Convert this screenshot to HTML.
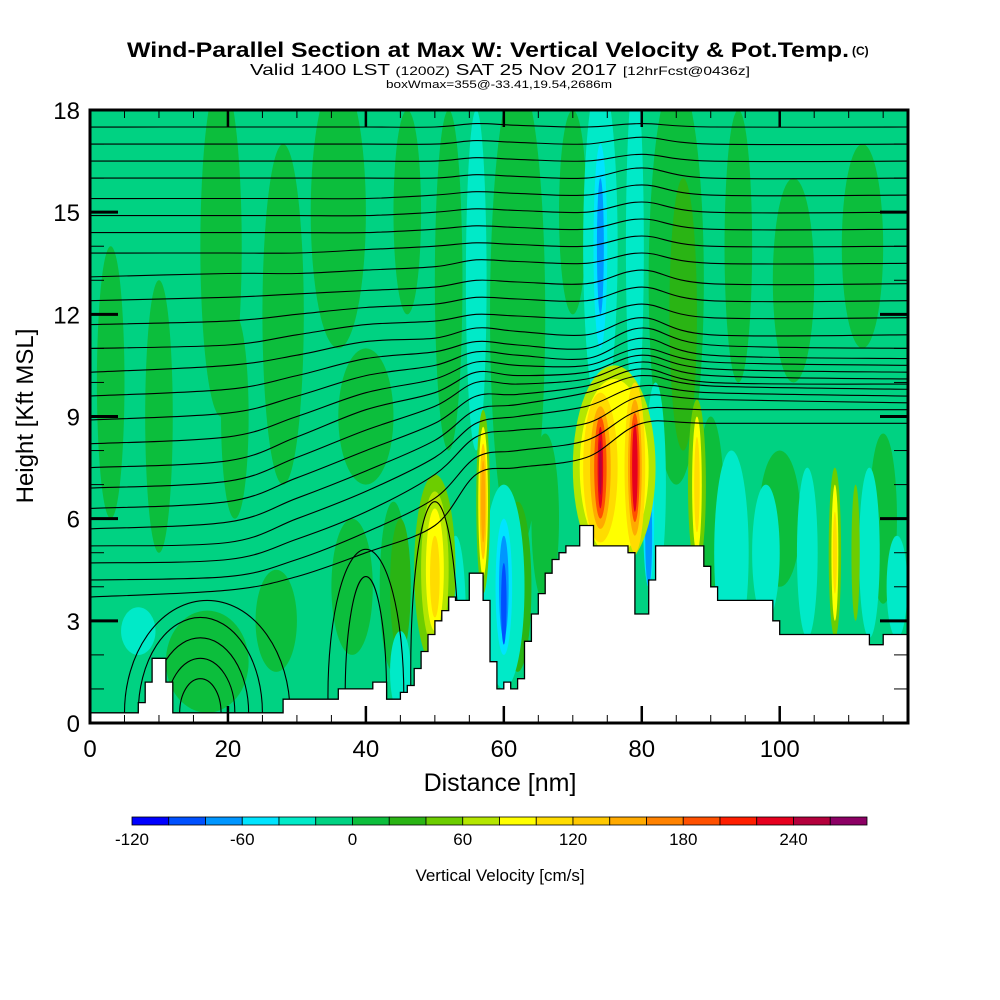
<!DOCTYPE html>
<html><head><meta charset="utf-8"><style>
html,body{margin:0;padding:0;background:#fff;}
svg{display:block;font-family:"Liberation Sans",sans-serif;}
</style></head><body>
<svg id="chart" width="1000" height="1000" viewBox="0 0 1000 1000" xmlns="http://www.w3.org/2000/svg">
<defs><clipPath id="plotclip"><rect x="90" y="110" width="818" height="613"/></clipPath></defs>
<text x="127" y="57" font-size="21" font-weight="bold" textLength="722" lengthAdjust="spacingAndGlyphs">Wind-Parallel Section at Max W: Vertical Velocity &amp; Pot.Temp.</text>
<text x="852" y="55" font-size="12" font-weight="bold">(C)</text>
<text x="250" y="75" font-size="16" textLength="500" lengthAdjust="spacingAndGlyphs">Valid 1400 LST <tspan font-size="12">(1200Z)</tspan> SAT 25 Nov 2017 <tspan font-size="12">[12hrFcst@0436z]</tspan></text>
<text x="386" y="88" font-size="11" textLength="226" lengthAdjust="spacingAndGlyphs">boxWmax=355@-33.41,19.54,2686m</text>
<rect x="90" y="110" width="818" height="613" fill="#00d282"/>
<g id="fills" clip-path="url(#plotclip)"></g>
<g id="contours" clip-path="url(#plotclip)" fill="none" stroke="#000" stroke-width="1.1"></g>
<g id="terrain" clip-path="url(#plotclip)"></g>
<rect x="90" y="110" width="818" height="613" fill="none" stroke="#000" stroke-width="3"/>
<g id="axes"></g>
<text x="500" y="791" font-size="25" text-anchor="middle">Distance [nm]</text>
<text transform="translate(33,416) rotate(-90)" font-size="24" text-anchor="middle">Height [Kft MSL]</text>
<g id="colorbar"></g>
<text x="500" y="881" font-size="17" text-anchor="middle">Vertical Velocity [cm/s]</text>
</svg>
<script>
// ---- data ----
const levelColors = ["#0000ff","#0050ff","#0096ff","#00e4ff","#00eac8","#00d282","#0cbe3c","#2ab414","#6ccd00","#b4e600","#ffff00","#ffdc00","#ffc800","#ffaa00","#ff8200","#ff5000","#ff1e00","#e6001e","#b4003c","#8c0064"];
const colorbarTicks = [-120,-60,0,60,120,180,240];
const xTicks = [0,20,40,60,80,100];
const yTicks = [0,3,6,9,12,15,18];
// terrain height (kft) per 1-nm column, starting at 0 nm
const terrain = [.3,.3,.3,.3,.3,.3,.3,.6,1.2,1.9,1.9,1.2,.3,
 .3,.3,.3,.3,.3,.3,.3,.3,.3,.3,.3,.3,.3,.3,.3,
 .7,.7,.7,.7,.7,.7,.7,.7,
 1.0,1.0,1.0,1.0,1.0,1.2,1.2,.7,.7,.9,1.1,1.6,2.1,2.6,3.0,3.3,3.7,3.6,3.6,4.4,4.4,3.6,1.8,1.0,1.2,1.0,1.3,2.4,3.2,3.8,4.4,4.8,5.0,5.2,5.2,5.8,5.8,5.2,5.2,5.2,5.2,5.2,5.0,3.2,3.2,4.2,5.2,
 5.2,5.2,5.2,5.2,5.2,5.2,4.6,4.0,3.6,3.6,3.6,3.6,3.6,3.6,3.6,3.6,3.0,
 2.6,2.6,2.6,2.6,2.6,2.6,2.6,2.6,2.6,2.6,2.6,2.6,2.6,2.3,2.3,2.6,2.6,2.6,2.6];
// vertical velocity features: centre nm, centre kft, half-width nm, half-height kft, level index
const features = [
 [3,10,2,4,6],[10,9,2,4,6],[19,14,3,5,6],[21,9,2,3,6],[28,12,3,5,6],[36,15,4,4,6],[46,15,2,3,6],[52,13,2,5,6],
 [62,12,4,7,6],[70,15,2,3,6],[85,13,4,6,6],[94,14,2,4,6],[102,13,3,3,6],[112,14,3,3,6],[40,9,4,2,6],[90,6,2,3,6],
 [66,6,2,2.5,6],[100,6,3,2,6],[115,6,2,2.5,6],[17,1.8,6,1.5,6],[27,3,3,1.5,6],[38,4,3,2,6],[44,4,2,2.5,6],
 [62,4,2,2.5,7],[45,4,1.5,2,7],[86,12,2,4,7],
 [56,13,1.5,5,4],[74,14,2.5,5,4],[79,14,1.3,5,4],[60,4,3,3,4],[53,3,1.5,2.5,4],[7,2.7,2.5,.7,4],[45,1.5,1.5,1.2,4],
 [77,6,1.5,3,4],[82,7,1.5,3,4],[93,5,2.5,3,4],[98,5,2,2,4],[104,5,1.5,2.5,4],[113,5,1.5,2.5,4],[117,4,1.5,1.5,4],
 [74,14,1,3,3],[60,4,1.2,2,3],[78,5,.8,2,3],[81,6,.8,2,3],
 [74,14,.5,2,2],[60,4,.7,1.5,2],[81,5.5,.5,1.5,2],[60,3.5,.4,1.2,1],
 [50,4.5,3,2.8,8],[50,4.5,2,2.3,9],[50,4.5,1.3,1.8,10],[50,4.3,.7,1.2,11],
 [57,6.5,1,2.7,8],[57,6.5,.7,2.2,10],[57,6.5,.5,1.7,12],[57,6.5,.3,1.2,13],
 [76,7.5,6,3,9],[76,7.5,5,2.6,10],[74,7.5,2.5,2.2,11],[79,7.5,1.5,2.5,11],[74,7.5,1.5,1.8,13],[79,7.5,1,2,13],
 [74,7.5,.9,1.5,15],[79,7.5,.7,1.6,15],[74,7.5,.4,1.2,17],[79,7.5,.4,1.3,17],[74,7.5,.2,.8,18],
 [88,7,1.3,2.5,8],[88,7,.7,2,10],[88,7,.4,1.4,11],
 [108,5,.9,2.5,8],[108,5,.5,2,10],[108,5,.3,1.2,11],[111,5,.6,2,8]
];
// potential temperature contours: heights (kft) at stations
const stations = [0,20,30,40,50,56,62,72,80,90,119];
const thetaLines = [
 [17.5,17.5,17.5,17.5,17.5,17.6,17.55,17.5,17.6,17.5,17.5],
 [17.0,17.0,17.0,17.0,17.0,17.1,17.05,17.0,17.2,17.0,17.0],
 [16.5,16.5,16.5,16.5,16.5,16.6,16.55,16.5,16.7,16.5,16.5],
 [16.0,16.0,16.0,16.0,16.0,16.1,16.05,16.0,16.3,16.0,16.0],
 [15.4,15.4,15.4,15.4,15.5,15.6,15.55,15.5,15.8,15.5,15.5],
 [14.9,14.9,14.9,14.9,15.0,15.1,15.05,15.0,15.3,15.0,15.0],
 [14.4,14.4,14.4,14.4,14.5,14.6,14.55,14.5,14.8,14.5,14.5],
 [13.8,13.8,13.8,13.9,14.0,14.1,14.05,14.0,14.3,14.0,14.0],
 [13.1,13.2,13.2,13.3,13.4,13.6,13.55,13.5,13.8,13.5,13.5],
 [12.4,12.5,12.6,12.7,12.8,13.0,12.95,12.9,13.3,12.9,12.9],
 [11.7,11.8,12.0,12.2,12.3,12.5,12.45,12.4,12.8,12.4,12.4],
 [11.0,11.1,11.4,11.7,11.8,12.0,11.95,11.9,12.3,11.9,11.9],
 [10.3,10.5,10.8,11.2,11.3,11.6,11.5,11.4,11.9,11.4,11.4],
 [9.6,9.8,10.2,10.7,10.9,11.2,11.1,11.0,11.6,11.1,11.0],
 [8.9,9.1,9.6,10.2,10.5,10.9,10.8,10.7,11.3,10.8,10.7],
 [8.2,8.4,9.0,9.7,10.1,10.6,10.5,10.5,11.0,10.6,10.5],
 [7.5,7.7,8.4,9.2,9.7,10.3,10.2,10.3,10.8,10.4,10.3],
 [6.9,7.1,7.8,8.6,9.3,10.0,9.95,10.1,10.6,10.2,10.1],
 [6.3,6.5,7.2,8.0,8.8,9.6,9.65,9.9,10.4,10.0,9.95],
 [5.7,5.9,6.6,7.4,8.3,9.2,9.35,9.7,10.2,9.9,9.8],
 [5.2,5.3,6.0,6.8,7.8,8.8,9.0,9.3,9.9,9.7,9.6],
 [4.7,4.8,5.4,6.2,7.3,8.4,8.6,8.8,9.6,9.5,9.4],
 [4.2,4.3,4.8,5.6,6.6,7.8,8.0,8.3,9.2,9.2,9.2],
 [3.7,3.9,4.3,5.0,5.8,7.3,7.5,7.8,8.8,8.8,8.8]
];
// closed / arched low-level contours: centre nm, centre kft, half-width nm, half-height kft
const arcs = [[16,0.3,3,1.0],[16,0.3,5,1.6],[16,0.3,7,2.2],[16,0.3,9,2.8],[17,0.3,12,3.3],[40,0.8,3,3.5],[40,0.8,5.5,4.3],[50,1.5,3.5,5]];

// ---- axes functions ----
const X0=90, X1=908, Y0=723, Y1=110, XMAX=118.6, YMAX=18;
const sx = v => X0 + v*(X1-X0)/XMAX;
const sy = v => Y0 - v*(Y0-Y1)/YMAX;
const NS="http://www.w3.org/2000/svg";
function mk(tag, parent){const e=document.createElementNS(NS,tag);parent.appendChild(e);return e;}

// fills
const gF=document.getElementById('fills');
features.forEach(f=>{
 const e=mk('ellipse',gF);
 
 
 e.setAttribute('cx',sx(f[0]));e.setAttribute('cy',sy(f[1]));
 e.setAttribute('rx',sx(f[2])-X0);e.setAttribute('ry',Y0-sy(f[3]));
 e.setAttribute('fill',levelColors[f[4]]);
});

// smooth path
function smooth(pts){
 let d='M'+pts[0][0]+','+pts[0][1];
 for(let i=0;i<pts.length-1;i++){
  const p0=pts[Math.max(0,i-1)],p1=pts[i],p2=pts[i+1],p3=pts[Math.min(pts.length-1,i+2)];
  const c1=[p1[0]+(p2[0]-p0[0])/6,p1[1]+(p2[1]-p0[1])/6];
  const c2=[p2[0]-(p3[0]-p1[0])/6,p2[1]-(p3[1]-p1[1])/6];
  d+=' C'+c1[0].toFixed(1)+','+c1[1].toFixed(1)+' '+c2[0].toFixed(1)+','+c2[1].toFixed(1)+' '+p2[0].toFixed(1)+','+p2[1].toFixed(1);
 }
 return d;
}
const gC=document.getElementById('contours');
thetaLines.forEach(line=>{
 const p=mk('path',gC);
 
 
 p.setAttribute('d',smooth(line.map((v,i)=>[sx(stations[i]),sy(v)])));
});
arcs.forEach(a=>{
 const e=mk('ellipse',gC);
 
 
 e.setAttribute('cx',sx(a[0]));e.setAttribute('cy',sy(a[1]));
 e.setAttribute('rx',sx(a[2])-X0);e.setAttribute('ry',Y0-sy(a[3]));
});

// terrain
const gT=document.getElementById('terrain');
let td='M'+X0+','+Y0;
terrain.forEach((h,i)=>{td+=' L'+sx(i).toFixed(1)+','+sy(h).toFixed(1)+' L'+sx(i+1).toFixed(1)+','+sy(h).toFixed(1);});
td+=' L'+X1+','+Y0+' Z';
const tp=mk('path',gT);


tp.setAttribute('d',td);tp.setAttribute('fill','#fff');tp.setAttribute('stroke','#000');tp.setAttribute('stroke-width','1.3');

// axes
const gA=document.getElementById('axes');
function line(x1,y1,x2,y2,w,name){const l=mk('line',gA);
 
 
 l.setAttribute('x1',x1);l.setAttribute('y1',y1);l.setAttribute('x2',x2);l.setAttribute('y2',y2);l.setAttribute('stroke','#000');l.setAttribute('stroke-width',w);}
for(let v=5;v<XMAX;v+=5){const major=v%20===0,len=major?17:8;
 line(sx(v),Y0,sx(v),Y0-len,major?2.5:1,'x-tick');line(sx(v),Y1,sx(v),Y1+len,major?2.5:1,'x-tick');}
for(let v=1;v<YMAX;v++){const major=v%3===0,len=major?28:14;
 line(X0,sy(v),X0+len,sy(v),major?3:1,'y-tick');line(X1,sy(v),X1-len,sy(v),major?3:1,'y-tick');}
xTicks.forEach(v=>{const t=mk('text',gA);
 
 
 t.setAttribute('x',sx(v));t.setAttribute('y',757);t.setAttribute('font-size','24');t.setAttribute('text-anchor','middle');t.textContent=v;});
yTicks.forEach(v=>{const t=mk('text',gA);
 
 
 t.setAttribute('x',80);t.setAttribute('y',sy(v)+9);t.setAttribute('font-size','24');t.setAttribute('text-anchor','end');t.textContent=v;});

// colorbar
const gB=document.getElementById('colorbar');
const CB0=132,CB1=867,cw=(CB1-CB0)/levelColors.length;
levelColors.forEach((c,i)=>{const r=mk('rect',gB);
 
 
 r.setAttribute('x',CB0+i*cw);r.setAttribute('y',817);r.setAttribute('width',cw);r.setAttribute('height',8);r.setAttribute('fill',c);r.setAttribute('stroke','#000');r.setAttribute('stroke-width','0.8');});
colorbarTicks.forEach(v=>{const t=mk('text',gB);
 
 
 t.setAttribute('x',CB0+(v+120)/20*cw);t.setAttribute('y',845);t.setAttribute('font-size','17');t.setAttribute('text-anchor','middle');t.textContent=v;});
</script>
</body></html>
